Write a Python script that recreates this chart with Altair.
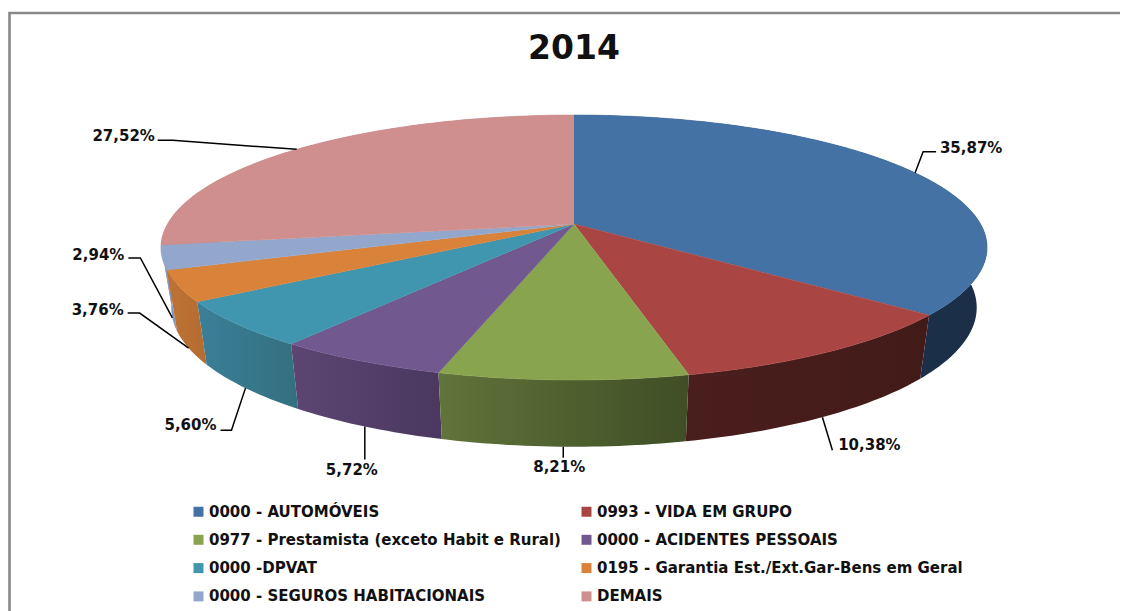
import math
import altair as alt
import pandas as pd

# ---- data ----
NAMES = ["0000 - AUTOMÓVEIS", "0993 - VIDA EM GRUPO",
         "0977 - Prestamista (exceto Habit e Rural)", "0000 - ACIDENTES PESSOAIS",
         "0000 -DPVAT", "0195 - Garantia Est./Ext.Gar-Bens em Geral",
         "0000 - SEGUROS HABITACIONAIS", "DEMAIS"]
SHARES = [35.87, 10.38, 8.21, 5.72, 5.60, 3.76, 2.94, 27.52]
LABELS = ["35,87%", "10,38%", "8,21%", "5,72%", "5,60%", "3,76%", "2,94%", "27,52%"]
TITLE = "2014"

# ---- styles ----
TOP = ["#4572A5", "#A94644", "#89A44F", "#71588F", "#4096AE", "#D98239", "#93A7CD", "#CE8F8E"]
SIDE = [("#1B2F48", "#1B2F48"), ("#4A1E1C", "#421B19"), ("#61743A", "#3F4E26"),
        ("#5C4572", "#4A3860"), ("#3B7F98", "#33707F"), ("#BE7335", "#B56C30"),
        ("#8AA0C5", "#7F95BA"), ("#B88080", "#B88080")]
FONT = "DejaVu Sans"

# ---- view of the pie: perspective disc, then its lower rim ----
CX, CY = 574, 224
A, B, K = 406.5, 128.3, 0.1774
SX, SY, DROP = 0.975, 1.05, 59

def top_rim(pct):
    t = pct / 100 * 2 * math.pi
    u, v = math.sin(t), math.cos(t)
    d = 1 + K * v
    return A * u / d, -B * v / d

def p_top(pct):
    X, Y = top_rim(pct)
    return CX + X, CY + Y

def p_bot(pct):
    X, Y = top_rim(pct)
    return CX + X * SX, CY + Y * SY + DROP

def sweep(a, b):
    n = max(2, int((b - a) * 3.6))
    return [a + (b - a) * i / n for i in range(n + 1)]

# leader elbows relative to the rim point at each slice's middle, then label offset from leader end
LEADER = [[(8, -21), (21, -21)], [(10, 33)], [(0, 11)], [(0, 33)],
          [(-14, 42), (-25, 42)], [(-49, -35), (-61, -35)], [(-32, -60), (-44, -60)],
          [(-124, -9), (-139, -9)]]
LABEL_OFF = [(35, -4), (37, -5), (-4, 9), (-13, 10), (-30, -5), (-30, -3), (-30, -3), (-34, -4)]
USE_BOTTOM = [False, True, True, True, True, True, True, False]

faces, walls, leaders, labels = [], [], [], []
start = 0.0
for i, (name, s) in enumerate(zip(NAMES, SHARES)):
    end = start + s
    pts = [(CX, CY)] + [p_top(p) for p in sweep(start, end)]
    for k, (x, y) in enumerate(pts):
        faces.append(dict(name=name, i=i, k=k, px=x, py=y))
    ring = [p_top(p) for p in sweep(start, end)] + [p_bot(p) for p in reversed(sweep(start, end))]
    for k, (x, y) in enumerate(ring):
        walls.append(dict(i=i, k=k, px=x, py=y))
    mid = start + s / 2
    ax, ay = p_bot(mid) if USE_BOTTOM[i] else p_top(mid)
    chain = [(ax, ay)] + [(ax + dx, ay + dy) for dx, dy in LEADER[i]]
    for k, (x, y) in enumerate(chain):
        leaders.append(dict(i=i, k=k, px=x, py=y))
    ex, ey = chain[-1]
    labels.append(dict(t=LABELS[i], px=ex + LABEL_OFF[i][0], py=ey + LABEL_OFF[i][1]))
    start = end

faces = pd.DataFrame(faces)
walls = pd.DataFrame(walls)
leaders = pd.DataFrame(leaders)
labels = pd.DataFrame(labels)

xs = alt.Scale(domain=[8, 1120], nice=False, zero=False)
ys = alt.Scale(domain=[8, 611], reverse=True, nice=False, zero=False)
X = alt.X("px:Q", scale=xs, axis=None)
Y = alt.Y("py:Q", scale=ys, axis=None)

layers = []
# frame
frame = pd.DataFrame({"k": [0, 1, 2], "px": [9.5, 9.5, 1120], "py": [611, 13, 13]})
layers.append(alt.Chart(frame).mark_line(stroke="#888888", strokeWidth=2.6).encode(
    x=X, y=Y, order="k:O"))
# walls, back to front
for i in [7, 6, 0, 5, 1, 4, 3, 2]:
    c0, c1 = SIDE[i]
    grad = alt.Gradient(gradient="linear", x1=0, x2=1, y1=0, y2=0,
                        stops=[alt.GradientStop(color=c0, offset=0), alt.GradientStop(color=c1, offset=1)])
    layers.append(alt.Chart(walls[walls.i == i]).mark_line(fill=grad, strokeWidth=0).encode(
        x=X, y=Y, order="k:Q"))
# faces with the legend
layers.append(alt.Chart(faces).mark_line(strokeWidth=0.6).encode(
    x=X, y=Y, order="k:Q",
    stroke=alt.Stroke("name:N", scale=alt.Scale(domain=NAMES, range=TOP), legend=None),
    fill=alt.Fill("name:N", scale=alt.Scale(domain=NAMES, range=TOP), sort=NAMES,
                  legend=alt.Legend(title=None, orient="none", legendX=183, legendY=496,
                                    columns=2, direction="horizontal", symbolType="square",
                                    symbolSize=100, symbolStrokeWidth=0, labelFont=FONT,
                                    labelFontSize=15, labelFontWeight="bold", labelColor="#111111",
                                    labelLimit=500, rowPadding=12.3, columnPadding=18, labelOffset=3))))
# leaders
layers.append(alt.Chart(leaders).mark_line(stroke="#000000", strokeWidth=1.5).encode(
    x=X, y=Y, detail="i:N", order="k:Q"))
# value labels
layers.append(alt.Chart(labels).mark_text(font=FONT, fontSize=15, fontWeight="bold", color="#111111").encode(
    x=X, y=Y, text="t:N"))

chart = alt.layer(*layers).properties(
    width=1112, height=603, padding=0,
    autosize=alt.AutoSizeParams(type="none"),
    title=alt.TitleParams(TITLE, font=FONT, fontSize=33, fontWeight="bold", color="#111111",
                          anchor="middle", dy=58, dx=10, offset=0),
).configure_view(stroke=None)

chart.save("out.html", embed_options={"renderer": "svg", "actions": False})
